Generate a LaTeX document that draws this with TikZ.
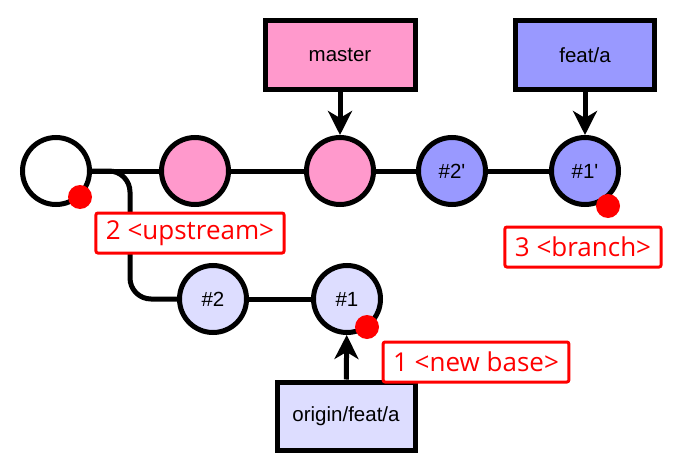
\documentclass[tikz,border=0pt]{standalone}
\usepackage{fontspec}
\setmainfont{Liberation Sans}
\newfontfamily\labelfont{Open Sans}
\usetikzlibrary{arrows.meta}
\definecolor{mastercol}{HTML}{FF99CC}
\definecolor{featcol}{HTML}{9999FF}
\definecolor{origincol}{HTML}{DDDDFF}
\definecolor{markred}{HTML}{FF0000}
\tikzset{
	commit/.style={draw=black, line width=5pt, circle, minimum size=67pt, inner sep=0pt, font=\fontsize{20.5}{24}\selectfont},
	refbox/.style={draw=black, line width=5pt, rectangle, minimum height=69pt, inner sep=0pt, font=\fontsize{20.5}{24}\selectfont},
	steplabel/.style={draw=markred, fill=white, line width=3pt, rounded corners=2pt, text=markred, inner xsep=10pt, inner ysep=0pt, minimum height=40pt, font=\labelfont\fontsize{26}{30}\selectfont},
	reddot/.style={circle, fill=markred, minimum size=24pt, inner sep=0pt},
	link/.style={line width=5pt},
	pointer/.style={line width=5pt, -{Stealth[length=24pt,width=24pt,inset=7pt]}}
}

\begin{document}
\begin{tikzpicture}[x=1pt, y=-1pt]
			%%%%% START %%%%%
			\useasboundingbox (0, 0) rectangle (675, 471);
			
			% commits
			\node[commit, fill=white] (root) at (56, 171) {};
			\node[commit, fill=mastercol] (m1) at (195, 171) {};
			\node[commit, fill=mastercol] (m2) at (340, 171) {};
			\node[commit, fill=featcol] (c2new) at (452, 171) {\#2\textquotesingle};
			\node[commit, fill=featcol] (c1new) at (585, 171) {\#1\textquotesingle};
			\node[commit, fill=origincol] (c2old) at (213, 299) {\#2};
			\node[commit, fill=origincol] (c1old) at (347, 299) {\#1};
			
			% refs
			\node[refbox, fill=mastercol, minimum width=150pt] (master) at (340, 55) {master};
			\node[refbox, fill=featcol, minimum width=139pt] (feat) at (585, 55) {feat/a};
			\node[refbox, fill=origincol, minimum width=138pt, minimum height=68pt] (origin) at (346, 416) {origin/feat/a};
			
			% history
			\draw[link] (root) -- (m1);
			\draw[link] (m1) -- (m2);
			\draw[link] (m2) -- (c2new);
			\draw[link] (c2new) -- (c1new);
			\draw[link] (c2old) -- (c1old);
			\coordinate (fork) at (130, 232);
			\draw[link, rounded corners=21pt] (root.east) -| (fork) |- (c2old.west);
			
			\draw[pointer] (master) -- (m2);
			\draw[pointer] (feat) -- (c1new);
			\draw[pointer] (origin) -- (c1old);
			
			% rebase arguments
			\node[reddot] (dotup) at (80, 197) {};
			\node[reddot] (dotbranch) at (608, 206) {};
			\node[reddot] (dotbase) at (367, 327) {};
			
			\node[steplabel] (upstream) at (190, 233) {2 <upstream>};
			\node[steplabel] (branch) at (583, 247) {3 <branch>};
			\node[steplabel] (newbase) at (476, 362) {1 <new base>};
			
			%%%%% END %%%%%
		\end{tikzpicture}
\end{document}
